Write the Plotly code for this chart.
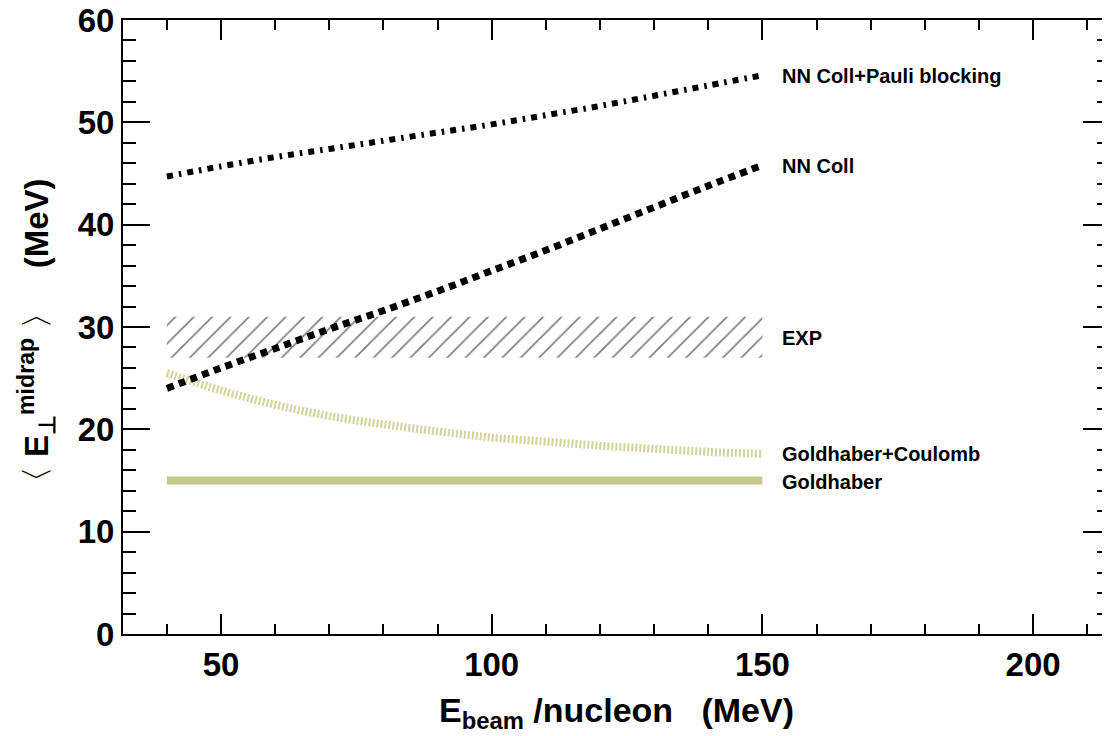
import plotly.graph_objects as go

# ---- data ----
e_beam = [40, 50, 60, 70, 80, 90, 100, 110, 120, 130, 140, 150]
nn_pauli = [44.7, 45.7, 46.6, 47.4, 48.2, 49.0, 49.8, 50.7, 51.6, 52.6, 53.6, 54.6]
nn_coll = [24.0, 26.0, 27.9, 29.8, 31.6, 33.5, 35.5, 37.5, 39.6, 41.7, 43.8, 45.8]
goldhaber_coulomb = [25.5, 23.8, 22.4, 21.3, 20.5, 19.8, 19.2, 18.8, 18.4, 18.1, 17.8, 17.6]
goldhaber = [15.0] * 12
exp_x = [40, 150]
exp_low = 27.0
exp_high = 31.0

labels = ["NN Coll+Pauli blocking", "NN Coll", "EXP", "Goldhaber+Coulomb", "Goldhaber"]
label_y = [54.5, 45.7, 28.9, 17.6, 14.9]
label_x = 153.3

FONT = "Liberation Sans"
KHAKI = "#c8c88c"

fig = go.Figure()

# EXP hatched band
fig.add_trace(go.Scatter(
    x=[exp_x[0], exp_x[1], exp_x[1], exp_x[0], exp_x[0]],
    y=[exp_low, exp_low, exp_high, exp_high, exp_low],
    mode="lines", fill="toself", fillcolor="rgba(0,0,0,0)",
    line=dict(width=0, color="rgba(0,0,0,0)"),
    fillpattern=dict(shape="/", size=13, solidity=0.13, fgcolor="black",
                     bgcolor="rgba(0,0,0,0)", fillmode="overlay"),
    hoverinfo="skip", showlegend=False))

fig.add_trace(go.Scatter(x=e_beam, y=goldhaber, mode="lines",
                         line=dict(color=KHAKI, width=8), showlegend=False))
fig.add_trace(go.Scatter(x=e_beam, y=goldhaber_coulomb, mode="lines",
                         line=dict(color="#d2d29e", width=8, dash="2px,2px", shape="spline"),
                         showlegend=False))
fig.add_trace(go.Scatter(x=e_beam, y=nn_coll, mode="lines",
                         line=dict(color="black", width=7, dash="7px,5.5px", shape="spline"),
                         showlegend=False))
fig.add_trace(go.Scatter(x=e_beam, y=nn_pauli, mode="lines",
                         line=dict(color="black", width=6, dash="6px,6px,2.5px,6px", shape="spline"),
                         showlegend=False))

for t, yy in zip(labels, label_y):
    fig.add_annotation(x=label_x, y=yy, xref="x", yref="y", text=t, showarrow=False,
                       xanchor="left", yanchor="middle",
                       font=dict(family=FONT, size=20, color="black", weight="bold"))

tickfont = dict(family=FONT, size=33, color="black", weight="bold")

fig.update_xaxes(range=[31.9, 214.2], showline=True, linecolor="black", linewidth=2,
                 mirror="ticks", ticks="inside", ticklen=20, tickwidth=1.5, tickcolor="black",
                 tick0=0, dtick=50, showgrid=False, zeroline=False, tickfont=tickfont,
                 automargin=False, ticklabeloverflow="allow",
                 minor=dict(ticks="inside", ticklen=10, tick0=0, dtick=10, tickwidth=1.5,
                            tickcolor="black", showgrid=False))
fig.update_yaxes(range=[0, 60], showline=True, linecolor="black", linewidth=2,
                 mirror="ticks", ticks="inside", ticklen=27, tickwidth=1.5, tickcolor="black",
                 tick0=0, dtick=10, showgrid=False, zeroline=False, tickfont=tickfont,
                 automargin=False, ticklabeloverflow="allow",
                 minor=dict(ticks="inside", ticklen=13, tick0=0, dtick=2, tickwidth=1.5,
                            tickcolor="black", showgrid=False))

# axis titles
fig.add_annotation(xref="paper", yref="paper", x=0.5, y=-0.128, xanchor="center", yanchor="middle",
                   text="E<sub>beam</sub> /nucleon   (MeV)", showarrow=False,
                   font=dict(family=FONT, size=34, color="black", weight="bold"))
fig.add_annotation(xref="paper", yref="paper", x=-0.087, y=0.4805, xanchor="center", yanchor="middle",
                   textangle=-90,
                   text="<span style='font-weight:normal'>〈</span> E<sub>⊥</sub><sup>midrap</sup> "
                        "<span style='font-weight:normal'>〉</span>   (MeV)",
                   showarrow=False,
                   font=dict(family=FONT, size=33, color="black", weight="bold"))

# the page body adds an 8px margin, so the figure is sized to fit the 1110x736 window
fig.update_layout(width=1102, height=728, margin=dict(l=115, r=0, t=12, b=102, autoexpand=False),
                  paper_bgcolor="white", plot_bgcolor="white", showlegend=False)

fig.write_html("out.html")
